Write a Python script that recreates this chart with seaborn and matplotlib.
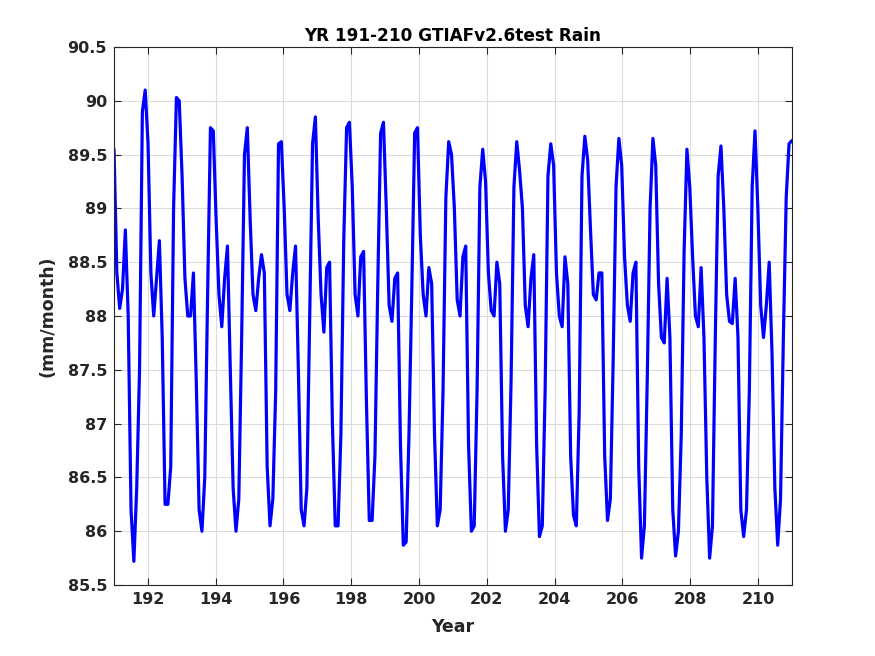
import numpy as np
import pandas as pd
import matplotlib
matplotlib.use("Agg")
import matplotlib.pyplot as plt
import seaborn as sns

# anos e valores mensais (mm/month)
anos = list(range(191, 211))
chuva = [
    [89.55, 88.40, 88.07, 88.25, 88.80, 88.00, 86.20, 85.72, 86.40, 87.50, 89.90, 90.10],  # 191
    [89.60, 88.40, 88.00, 88.35, 88.70, 87.80, 86.25, 86.25, 86.60, 89.00, 90.03, 90.00],  # 192
    [89.30, 88.35, 88.00, 88.00, 88.40, 87.40, 86.20, 86.00, 86.50, 88.20, 89.75, 89.72],  # 193
    [88.90, 88.20, 87.90, 88.35, 88.65, 87.50, 86.40, 86.00, 86.30, 87.80, 89.50, 89.75],  # 194
    [88.90, 88.20, 88.05, 88.35, 88.57, 88.40, 86.60, 86.05, 86.30, 87.30, 89.60, 89.62],  # 195
    [89.00, 88.20, 88.05, 88.40, 88.65, 87.50, 86.20, 86.05, 86.40, 88.00, 89.60, 89.85],  # 196
    [88.90, 88.20, 87.85, 88.45, 88.50, 87.00, 86.05, 86.05, 86.90, 88.70, 89.75, 89.80],  # 197
    [89.20, 88.20, 88.00, 88.55, 88.60, 87.20, 86.10, 86.10, 86.70, 88.30, 89.70, 89.80],  # 198
    [89.00, 88.10, 87.95, 88.35, 88.40, 86.80, 85.87, 85.90, 86.90, 88.25, 89.70, 89.75],  # 199
    [88.75, 88.20, 88.00, 88.45, 88.30, 86.90, 86.05, 86.20, 87.30, 89.10, 89.62, 89.50],  # 200
    [89.00, 88.15, 88.00, 88.55, 88.65, 86.80, 86.00, 86.05, 87.30, 89.20, 89.55, 89.25],  # 201
    [88.40, 88.05, 88.00, 88.50, 88.30, 86.70, 86.00, 86.20, 87.40, 89.20, 89.62, 89.35],  # 202
    [89.00, 88.10, 87.90, 88.35, 88.57, 86.80, 85.95, 86.05, 87.30, 89.30, 89.60, 89.40],  # 203
    [88.40, 88.00, 87.90, 88.55, 88.30, 86.70, 86.15, 86.05, 87.10, 89.30, 89.67, 89.45],  # 204
    [88.80, 88.20, 88.15, 88.40, 88.40, 86.70, 86.10, 86.30, 87.60, 89.20, 89.65, 89.40],  # 205
    [88.55, 88.10, 87.95, 88.40, 88.50, 86.60, 85.75, 86.05, 87.40, 89.00, 89.65, 89.40],  # 206
    [88.30, 87.80, 87.75, 88.35, 87.80, 86.20, 85.77, 86.00, 86.90, 88.60, 89.55, 89.20],  # 207
    [88.55, 88.00, 87.90, 88.45, 87.80, 86.50, 85.75, 86.05, 87.80, 89.30, 89.58, 89.00],  # 208
    [88.20, 87.95, 87.93, 88.35, 87.80, 86.20, 85.95, 86.20, 87.30, 89.20, 89.72, 89.00],  # 209
    [88.10, 87.80, 88.10, 88.50, 87.65, 86.40, 85.87, 86.30, 87.80, 89.10, 89.60, 89.63],  # 210
]

# monta tabela longa: uma linha por mes
valores = np.array(chuva).ravel()
n = len(valores)
df = pd.DataFrame({
    "Year": np.linspace(anos[0], anos[-1] + 1, n),
    "rain": valores,
})

sns.set_style("ticks")
plt.rcParams["font.family"] = ["DejaVu Sans"]
plt.rcParams["font.weight"] = "bold"

fig = plt.figure(figsize=(8.75, 6.56), dpi=100)
ax = fig.add_axes([0.1303, 0.1082, 0.7747, 0.8202])

sns.lineplot(data=df, x="Year", y="rain", color="#0000ff", linewidth=2.3, ax=ax)

cinza = "#262626"
ax.set_xlim(191, 211)
ax.set_ylim(85.5, 90.5)
ax.set_xticks(range(192, 211, 2))
yt = np.arange(85.5, 90.51, 0.5)
ax.set_yticks(yt)
ax.set_yticklabels([f"{v:g}" for v in yt])
ax.grid(True, color="#dcdcdc", linewidth=0.8)
ax.tick_params(direction="in", length=5, width=0.8, top=True, right=True,
               labelsize=11.5, colors=cinza, labelcolor=cinza, pad=5)
for lab in ax.get_xticklabels() + ax.get_yticklabels():
    lab.set_fontweight("bold")
for s in ax.spines.values():
    s.set_visible(True)
    s.set_color(cinza)
    s.set_linewidth(0.8)

ax.set_title("YR 191-210 GTIAFv2.6test Rain", fontsize=12.2, fontweight="bold", color="black", pad=4.5)
ax.set_xlabel("Year", fontsize=12.5, fontweight="bold", color=cinza, labelpad=8)
ax.set_ylabel("(mm/month)", fontsize=12.5, fontweight="bold", color=cinza, labelpad=8)

fig.savefig("out.png", dpi=100)
